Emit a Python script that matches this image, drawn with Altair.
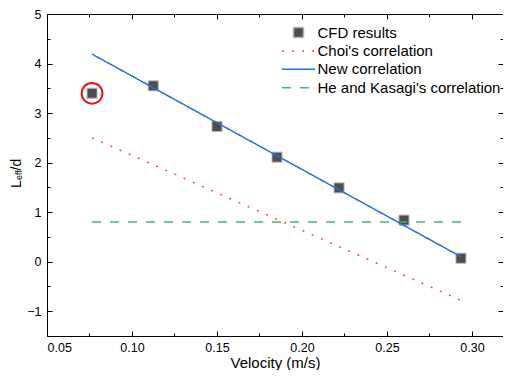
import altair as alt
import pandas as pd

# ---- data ----
series_names = ["CFD results", "Choi's correlation", "New correlation", "He and Kasagi's correlation"]

cfd_velocity = [0.0765, 0.1125, 0.150, 0.1853, 0.2218, 0.2600, 0.2935]
cfd_leff = [3.40, 3.55, 2.73, 2.11, 1.49, 0.84, 0.07]

line_velocity = [0.0765, 0.2935]
choi_leff = [2.50, -0.78]
new_leff = [4.19, 0.10]
he_leff = [0.80, 0.80]

outlier_velocity = [0.0765]
outlier_leff = [3.40]

x_major = [0.05, 0.10, 0.15, 0.20, 0.25, 0.30]
x_minor = [0.075, 0.125, 0.175, 0.225, 0.275]
y_major = [-1, 0, 1, 2, 3, 4, 5]
y_minor = [-0.5, 0.5, 1.5, 2.5, 3.5, 4.5]

x_title = "Velocity (m/s)"
y_title_parts = ["L", "eff", "/d"]

# ---- tables ----
pts = pd.DataFrame({"v": cfd_velocity, "L": cfd_leff, "series": series_names[0]})
choi = pd.DataFrame({"v": line_velocity, "L": choi_leff, "series": series_names[1]})
new = pd.DataFrame({"v": line_velocity, "L": new_leff, "series": series_names[2]})
he = pd.DataFrame({"v": line_velocity, "L": he_leff, "series": series_names[3]})
outl = pd.DataFrame({"v": outlier_velocity, "L": outlier_leff})

W, H = 456, 322
FONT = "Liberation Sans"

xs = alt.Scale(domain=[0.05, 0.31824], nice=False, zero=False)
ys = alt.Scale(domain=[-1.5, 5], nice=False, zero=False)

fill_scale = alt.Scale(domain=series_names, range=["#4d4d4d", "transparent", "transparent", "transparent"])
stroke_scale = alt.Scale(domain=series_names, range=["#b4b4b4", "#ff4545", "#2370e0", "#45b475"])
shape_scale = alt.Scale(domain=series_names,
                        range=["square", "M-3.3,0H3.3", "M-3.3,0H3.3", "M-3.3,0H3.3"])
dash_scale = alt.Scale(domain=series_names, range=[[1, 0], [2, 8], [1, 0], [9, 9]])

leg = alt.Legend(title=None, orient="none", legendX=244, legendY=11, labelFontSize=15,
                 labelFont=FONT, labelColor="#000000", symbolSize=100, symbolStrokeWidth=1.5,
                 labelOffset=11.5, rowPadding=2.4, padding=0, labelLimit=400)


def tick_axis(orient, values, size, offset, domain=False):
    return alt.Axis(orient=orient, values=values, tickSize=size, ticks=True, labels=False,
                    domain=domain, domainColor="#000000", domainWidth=1, grid=False,
                    title=None, offset=offset, tickColor="#000000", tickWidth=1)


# layer 1: CFD squares; carries the labelled axes (and bottom/left frame lines)
points = alt.Chart(pts).mark_point(filled=True, size=100, opacity=1, strokeWidth=1).encode(
    x=alt.X("v:Q", scale=xs, axis=alt.Axis(orient="bottom", values=x_major, format=".2f",
                                            ticks=False, tickSize=0, domain=True,
                                            domainColor="#000000", domainWidth=1, grid=False,
                                            labelFontSize=12.5, labelFont=FONT, labelColor="#000000",
                                            labelPadding=5, title=x_title, titleFont=FONT,
                                            titleFontSize=15, titleFontWeight="normal",
                                            titleColor="#000000", titlePadding=2)),
    y=alt.Y("L:Q", scale=ys, axis=alt.Axis(orient="left", values=y_major, format="d",
                                            ticks=False, tickSize=0, domain=True,
                                            domainColor="#000000", domainWidth=1, grid=False,
                                            labelFontSize=12.5, labelFont=FONT, labelColor="#000000",
                                            labelPadding=6, title=None)),
    fill=alt.Fill("series:N", scale=fill_scale, legend=leg),
    stroke=alt.Stroke("series:N", scale=stroke_scale, legend=leg),
    shape=alt.Shape("series:N", scale=shape_scale, legend=leg),
)

# outlier marker
circle = alt.Chart(outl).mark_point(shape="circle", size=430, filled=False, color="#ee1111",
                                    strokeWidth=2, opacity=1).encode(
    x=alt.X("v:Q", scale=xs, axis=tick_axis("bottom", x_minor, 3, -H)),
    y=alt.Y("L:Q", scale=ys, axis=tick_axis("left", y_minor, 3, -W)),
)


def corr_layer(df, xaxis, yaxis):
    return alt.Chart(df).mark_line(strokeWidth=1.5, opacity=1).encode(
        x=alt.X("v:Q", scale=xs, axis=xaxis),
        y=alt.Y("L:Q", scale=ys, axis=yaxis),
        stroke=alt.Stroke("series:N", scale=stroke_scale, legend=leg),
        strokeDash=alt.StrokeDash("series:N", scale=dash_scale, legend=leg),
    )


l_choi = corr_layer(choi, tick_axis("top", x_minor, 3, -H), tick_axis("right", y_minor, 3, -W))
l_new = corr_layer(new, tick_axis("top", x_major, 5, -H), tick_axis("right", y_major, 5, -W))
l_he = corr_layer(he, tick_axis("bottom", x_major, 5, -H, domain=True),
                  tick_axis("left", y_major, 5, -W))

# y axis title with subscript
t_df = pd.DataFrame({"t": y_title_parts})
t_L = alt.Chart(t_df.iloc[[0]]).mark_text(angle=270, align="left", baseline="alphabetic",
                                          fontSize=14, font=FONT, color="#000000").encode(
    x=alt.value(-26.5), y=alt.value(174), text="t:N")
t_eff = alt.Chart(t_df.iloc[[1]]).mark_text(angle=270, align="left", baseline="alphabetic",
                                            fontSize=9, font=FONT, color="#000000").encode(
    x=alt.value(-25.5), y=alt.value(166), text="t:N")
t_d = alt.Chart(t_df.iloc[[2]]).mark_text(angle=270, align="left", baseline="alphabetic",
                                          fontSize=14, font=FONT, color="#000000").encode(
    x=alt.value(-26.5), y=alt.value(156.5), text="t:N")

chart = alt.layer(circle, points, l_choi, l_he, l_new, t_L, t_eff, t_d).resolve_axis(
    x="independent", y="independent"
).properties(
    width=W, height=H,
    autosize=alt.AutoSizeParams(type="none"),
    padding={"left": 39, "top": 6, "right": 0, "bottom": 34},
).configure_view(stroke=None).configure(background="white")

chart.save("out.html", embed_options={"renderer": "svg", "actions": False})
